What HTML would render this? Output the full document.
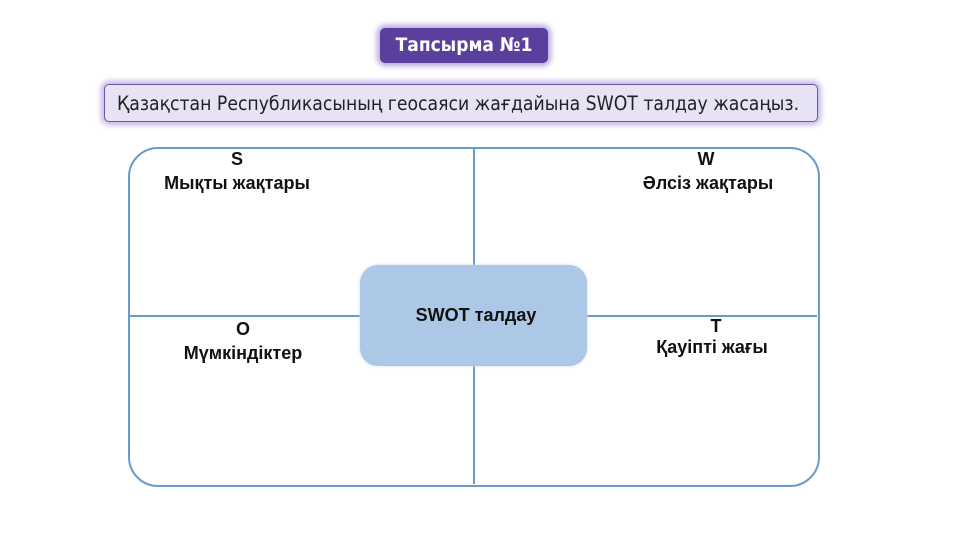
<!DOCTYPE html>
<html><head><meta charset="utf-8"><style>
body{margin:0;width:960px;height:540px;background:#fff;position:relative;overflow:hidden;font-family:"Liberation Sans","DejaVu Sans",sans-serif}
.a{position:absolute}
.t{font-weight:bold;font-size:18px;color:#111;text-align:center;width:220px;line-height:20px}
</style></head><body>
<div class="a" style="left:380px;top:28px;width:168px;height:35px;background:#5b3f9c;border-radius:5px;box-shadow:0 0 6px 3px #b9a6e0;color:#fff;font-weight:bold;font-size:19px;line-height:35px;text-align:center;font-family:'DejaVu Sans Condensed','Liberation Sans',sans-serif">Тапсырма №1</div>
<div class="a" style="left:104px;top:84px;width:714px;height:38px;background:#e7e2f4;border:1px solid #6b58a8;border-radius:5px;box-shadow:0 0 6px 3px #c4b4e8;font-size:19.2px;line-height:38px;padding-left:12px;box-sizing:border-box;color:#222;font-family:'DejaVu Sans Condensed','Liberation Sans',sans-serif">Қазақстан Республикасының геосаяси жағдайына SWOT талдау жасаңыз.</div>
<div class="a" style="left:128px;top:147px;width:688px;height:336px;border:2px solid #6a9acb;border-radius:30px"></div>
<div class="a" style="left:473px;top:148px;width:2px;height:336px;background:#6a9acb"></div>
<div class="a" style="left:129px;top:315px;width:688px;height:2px;background:#6a9acb"></div>
<div class="a" style="left:360px;top:265px;width:227px;height:101px;background:#adc7e6;border-radius:18px;box-shadow:0 0 3px #c8d8ee"></div>
<div class="a t" style="left:366px;top:305px">SWOT талдау</div>
<div class="a t" style="left:127px;top:149px">S</div>
<div class="a t" style="left:127px;top:173px">Мықты жақтары</div>
<div class="a t" style="left:596px;top:149px">W</div>
<div class="a t" style="left:598px;top:173px">Әлсіз жақтары</div>
<div class="a t" style="left:133px;top:319px">O</div>
<div class="a t" style="left:133px;top:343px">Мүмкіндіктер</div>
<div class="a t" style="left:606px;top:316px">T</div>
<div class="a t" style="left:602px;top:337px">Қауіпті жағы</div>
</body></html>
